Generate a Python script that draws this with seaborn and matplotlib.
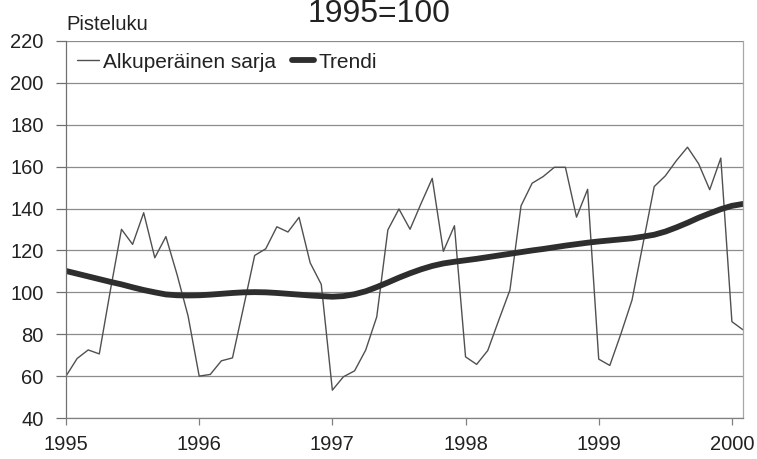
import numpy as np
import pandas as pd
import matplotlib
matplotlib.use("Agg")
import matplotlib.pyplot as plt
import seaborn as sns

# kuukausisarja 1995/01 - 2000/02
vuodet = ["1995", "1996", "1997", "1998", "1999", "2000"]
alkuperainen = [
    60, 68.4, 72.5, 70.6, 101, 130.1, 122.9, 138, 116.5, 126.6, 108.6, 88.7,
    60, 60.8, 67.3, 68.7, 93, 117.6, 120.8, 131.3, 128.8, 135.8, 114.1, 103.8,
    53.3, 59.7, 62.5, 72.4, 88.3, 129.8, 139.8, 130.1, 142.5, 154.4, 119.6, 131.8,
    69.2, 65.6, 72.2, 86.8, 101.1, 141.3, 152.1, 155.3, 159.7, 159.7, 135.9, 149.2,
    68.1, 65.1, 80.2, 96.3, 123.4, 150.5, 155.6, 162.9, 169.3, 161.4, 149.0, 164.1,
    86.0, 82.1,
]
trendi = [
    110.2, 108.9, 107.6, 106.3, 105.0, 103.8, 102.4, 101.1, 100.0, 99.0, 98.6, 98.5,
    98.6, 98.9, 99.3, 99.7, 100.0, 100.1, 100.0, 99.7, 99.3, 98.9, 98.5, 98.2,
    97.9, 98.2, 99.1, 100.5, 102.5, 104.7, 107.0, 109.1, 111.0, 112.6, 113.8, 114.6,
    115.3, 116.0, 116.8, 117.6, 118.4, 119.2, 120.0, 120.7, 121.5, 122.3, 123.0, 123.7,
    124.3, 124.8, 125.3, 125.8, 126.6, 127.5, 129.0, 131.0, 133.2, 135.6, 137.7, 139.7,
    141.3, 142.2,
]

df = pd.DataFrame({
    "kk": np.arange(len(alkuperainen)),
    "Alkuperäinen sarja": alkuperainen,
    "Trendi": trendi,
})

sns.set_theme(style="white")
plt.rcParams["font.family"] = ["Liberation Sans", "DejaVu Sans"]

fig = plt.figure(figsize=(7.57, 4.59), dpi=100)
ax = fig.add_axes([66 / 757, 1 - 418 / 459, 677 / 757, 377 / 459])

sns.lineplot(data=df, x="kk", y="Alkuperäinen sarja", ax=ax,
             color="#505050", linewidth=1.0, label="Alkuperäinen sarja")
sns.lineplot(data=df, x="kk", y="Trendi", ax=ax,
             color="#2e2e2e", linewidth=4.2, label="Trendi")

ax.set_xlim(0, 61)
ax.set_ylim(40, 220)
ax.set_yticks(range(40, 221, 20))
ax.set_xticks(range(0, 61, 12))
ax.set_xticklabels(vuodet)
ax.set_xlabel("")
ax.set_ylabel("")
ax.yaxis.grid(True, color="#8c8c8c", linewidth=0.9)
ax.set_axisbelow(True)

ax.spines["top"].set_visible(False)
ax.spines["left"].set_color("#707070")
ax.spines["bottom"].set_color("#808080")
ax.spines["right"].set_color("#a8a8a8")
for s in ax.spines.values():
    s.set_linewidth(0.9)

ax.tick_params(axis="y", which="major", left=True, length=7, width=0.9,
               color="#707070", labelsize=14.5, pad=9, labelcolor="#222222")
ax.tick_params(axis="x", which="major", bottom=True, length=5, width=0.9,
               color="#808080", labelsize=14.5, pad=7, labelcolor="#222222")

leg = ax.legend(loc="center left", bbox_to_anchor=(0.0158, 0.944), ncol=2,
                frameon=False, fontsize=15, handlelength=1.05,
                handletextpad=0.2, columnspacing=0.8,
                borderpad=0, borderaxespad=0)
for t in leg.get_texts():
    t.set_color("#222222")

fig.text(66 / 757, 1 - 30 / 459, "Pisteluku", fontsize=14.5,
         ha="left", va="baseline", color="#222222")
fig.text(379 / 757, 1 - 22 / 459, "1995=100", fontsize=23,
         ha="center", va="baseline", color="#222222")

fig.savefig("out.png", dpi=100, facecolor="white")
